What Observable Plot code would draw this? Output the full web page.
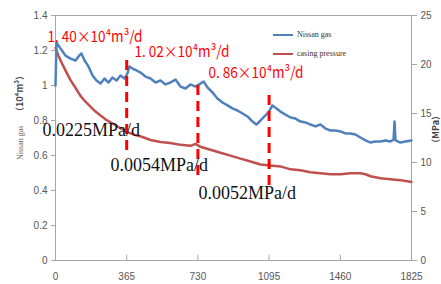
<!DOCTYPE html>
<html>
<head>
<meta charset="utf-8">
<script src="https://cdn.jsdelivr.net/npm/d3@7"></script>
<script src="https://cdn.jsdelivr.net/npm/@observablehq/plot@0.6"></script>
<style>
  html, body { margin: 0; padding: 0; background: #fff; }
  #wrap { position: relative; width: 441px; height: 284px; overflow: hidden; }
  .leg { position: absolute; left: 273px; font-family: "Liberation Serif", serif; font-size: 8px; color: #333; display: flex; align-items: center; }
  .leg span.sw { display: inline-block; width: 20px; height: 2px; margin-right: 4px; }
</style>
</head>
<body>
<div id="wrap"></div>
<script>
// ---- data ----
const gasDay = [0, 5, 26, 51, 77, 103, 118, 133, 149, 169, 190, 210, 231, 251, 272, 292, 313, 333, 354, 369, 379, 395, 415, 436, 461, 487, 513, 538, 564, 589, 615, 641, 666, 692, 718, 743, 759, 779, 805, 830, 856, 882, 907, 933, 959, 984, 1010, 1030, 1051, 1071, 1092, 1112, 1133, 1153, 1179, 1205, 1230, 1256, 1282, 1307, 1333, 1358, 1384, 1410, 1435, 1461, 1487, 1512, 1538, 1563, 1589, 1615, 1640, 1666, 1692, 1717, 1733, 1738, 1743, 1768, 1794, 1825];
const gasVal = [1.00, 1.246, 1.211, 1.171, 1.154, 1.143, 1.166, 1.183, 1.143, 1.109, 1.057, 1.029, 1.011, 1.04, 1.017, 1.046, 1.029, 1.057, 1.04, 1.069, 1.109, 1.097, 1.086, 1.074, 1.051, 1.04, 1.017, 1.029, 1.006, 1.017, 1.034, 0.994, 0.983, 1.006, 0.994, 1.011, 1.023, 0.989, 0.96, 0.926, 0.903, 0.886, 0.869, 0.857, 0.84, 0.823, 0.794, 0.777, 0.80, 0.823, 0.846, 0.886, 0.869, 0.851, 0.834, 0.817, 0.811, 0.794, 0.789, 0.777, 0.766, 0.777, 0.754, 0.743, 0.743, 0.737, 0.726, 0.726, 0.72, 0.703, 0.686, 0.674, 0.68, 0.68, 0.686, 0.68, 0.691, 0.794, 0.686, 0.674, 0.68, 0.686];

const presDay = [0, 15, 31, 51, 77, 103, 128, 154, 179, 205, 231, 256, 282, 308, 333, 369, 410, 446, 487, 538, 589, 641, 692, 718, 743, 794, 846, 897, 948, 1000, 1051, 1102, 1153, 1205, 1256, 1307, 1358, 1410, 1461, 1512, 1563, 1589, 1615, 1666, 1717, 1768, 1825];
const presVal = [21.7, 20.9, 20.2, 19.4, 18.4, 17.6, 16.8, 16.2, 15.7, 15.2, 14.8, 14.4, 14.1, 13.8, 13.5, 13.1, 12.8, 12.6, 12.3, 12.1, 12.0, 11.8, 11.7, 11.9, 11.6, 11.3, 11.0, 10.7, 10.4, 10.1, 9.8, 9.7, 9.6, 9.3, 9.2, 9.0, 8.9, 8.8, 8.8, 8.9, 8.9, 8.8, 8.6, 8.4, 8.3, 8.2, 8.0];

const xTicks = [0, 365, 730, 1095, 1460, 1825];
const yTicks = [0, 0.2, 0.4, 0.6, 0.8, 1.0, 1.2, 1.4];
const pTicks = [0, 5, 10, 15, 20, 25];

const markDay = [365, 730, 1095];
const markTop = [1.143, 1.0, 0.943];
const markBot = [0.617, 0.486, 0.411];

const rateText = ["1. 40×10⁴m³/d", "1. 02×10⁴m³/d", "0. 86×10⁴m³/d"];
const rateDay = [-41, 405, 784];
const rateVal = [1.274, 1.189, 1.069];

const presText = ["0.0225MPa/d", "0.0054MPa/d", "0.0052MPa/d"];
const presTDay = [-67, 282, 733];
const presTVal = [0.743, 0.543, 0.383];

const seriesNames = ["Nissan gas", "casing pressure"];
const seriesColors = ["#4f81bd", "#c0504d"];

// ---- chart ----
const K = 1.4 / 25; // right axis (0-25) onto left axis (0-1.4)
const fmtY = d => String(+d.toFixed(1));
const tickFont = "Liberation Sans, Arial, sans-serif";

const chart = Plot.plot({
  width: 441,
  height: 284,
  marginLeft: 55,
  marginRight: 30,
  marginTop: 15,
  marginBottom: 24,
  x: {domain: [0, 1825]},
  y: {domain: [0, 1.4]},
  style: {fontFamily: tickFont, fontSize: "10px", color: "#555", background: "#fff", overflow: "visible"},
  marks: [
    Plot.frame({stroke: "#a6a6a6"}),
    Plot.axisY(yTicks, {tickSize: 4, tickPadding: 4, tickFormat: fmtY, stroke: "#a6a6a6", label: null}),
    Plot.axisY(pTicks.map(p => p * K), {anchor: "right", tickSize: 5, tickPadding: 4, tickFormat: d => String(Math.round(d / K)), stroke: "#a6a6a6", label: null}),
    Plot.axisX(xTicks, {tickSize: 0, tickPadding: 12, tickFormat: d => String(d), label: null}),
    Plot.ruleX(xTicks, {x: d => d, y1: 0, y2: 0.03, stroke: "#a6a6a6"}),
    Plot.line(presVal, {x: presDay, y: presVal.map(p => p * K), stroke: seriesColors[1], strokeWidth: 2.5}),
    Plot.line(gasVal, {x: gasDay, y: gasVal, stroke: seriesColors[0], strokeWidth: 2.5}),
    Plot.ruleX(markDay, {x: markDay, y1: markTop, y2: markBot, stroke: "#ff0000", strokeWidth: 3, strokeDasharray: "10,6"}),
    Plot.text(rateText, {x: rateDay, y: rateVal, text: rateText, textAnchor: "start", fill: "#ff0000", fontSize: 15, fontFamily: "Noto Sans CJK SC, sans-serif"}),
    Plot.text(presText, {x: presTDay, y: presTVal, text: presText, textAnchor: "start", fill: "#111", fontSize: 18, fontFamily: "Liberation Serif, Times New Roman, serif"}),
    Plot.text(["Nissan gas"], {frameAnchor: "left", text: d => d, rotate: -90, dx: -35, dy: 22, fontSize: 8, fill: "#666", fontFamily: "Liberation Serif, serif"}),
    Plot.text(["（10⁴m³）"], {frameAnchor: "left", text: d => d, rotate: -90, dx: -35, dy: -22, fontSize: 9, fontWeight: "bold", fill: "#444", fontFamily: "Noto Sans CJK SC, sans-serif"}),
    Plot.text(["（MPa）"], {frameAnchor: "right", text: d => d, rotate: -90, dx: 25, dy: -27, fontSize: 9, fontWeight: "bold", fill: "#444", fontFamily: "Noto Sans CJK SC, sans-serif"})
  ]
});

// fit the red rate annotations to the width they take in the reference
d3.select(chart).selectAll("text")
  .filter(function() { return this.textContent.includes("×10"); })
  .attr("textLength", 95)
  .attr("lengthAdjust", "spacingAndGlyphs");

const wrap = document.getElementById("wrap");
wrap.appendChild(chart);
seriesNames.forEach((name, i) => {
  const d = document.createElement("div");
  d.className = "leg";
  d.style.top = (30 + i * 19) + "px";
  d.innerHTML = `<span class="sw" style="background:${seriesColors[i]}"></span>${name}`;
  wrap.appendChild(d);
});
</script>
</body>
</html>
